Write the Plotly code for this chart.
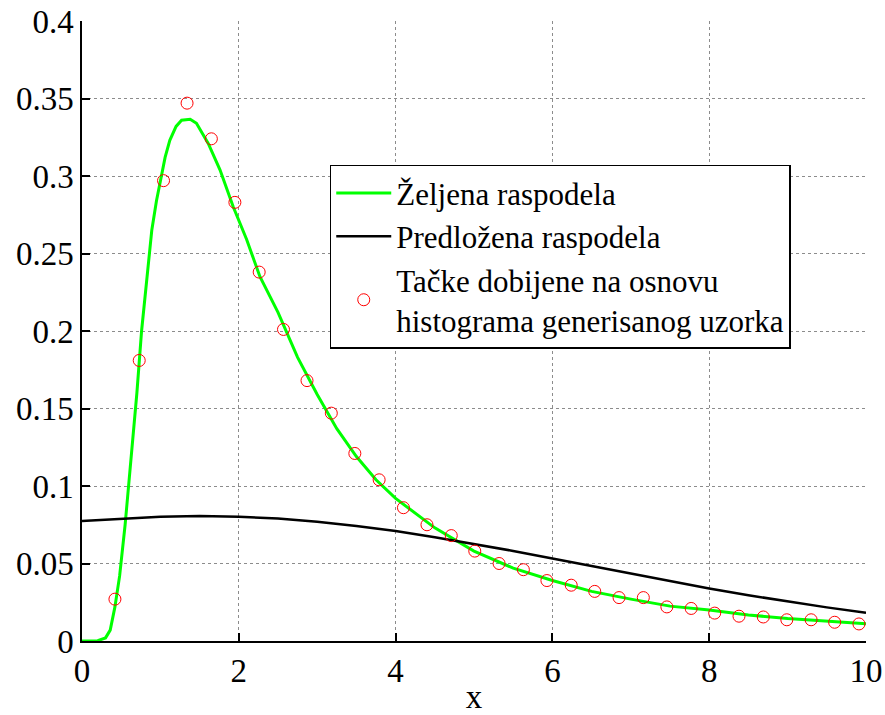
import plotly.graph_objects as go

# Target density (green), sampled along x
x_target = [0.0, 0.1, 0.2, 0.3, 0.36, 0.42, 0.48, 0.55, 0.62, 0.70, 0.76, 0.83, 0.89,
            0.95, 1.0, 1.06, 1.12, 1.2, 1.27, 1.38, 1.46, 1.61, 1.76, 1.93, 2.10,
            2.27, 2.5, 2.75, 3.0, 3.25, 3.5, 3.75, 4.0, 4.5, 5.0, 5.5, 6.0, 6.5,
            7.0, 7.5, 8.0, 8.5, 9.0, 9.5, 10.0]
y_target = [0.0, 0.0, 0.0002, 0.002, 0.007, 0.022, 0.042, 0.075, 0.115, 0.160, 0.200,
            0.233, 0.265, 0.284, 0.297, 0.312, 0.323, 0.332, 0.336, 0.3366, 0.334,
            0.321, 0.304, 0.280, 0.259, 0.235, 0.212, 0.183, 0.159, 0.137, 0.119,
            0.104, 0.092, 0.073, 0.058, 0.047, 0.039, 0.032, 0.027, 0.0225, 0.020,
            0.0168, 0.0145, 0.0128, 0.0112]

# Proposal density (black)
x_prop = [0.0, 0.5, 1.0, 1.5, 2.0, 2.5, 3.0, 3.5, 4.0, 4.5, 5.0, 5.5, 6.0, 6.5,
          7.0, 7.5, 8.0, 8.5, 9.0, 9.5, 10.0]
y_prop = [0.0774, 0.0790, 0.0802, 0.0806, 0.0802, 0.0790, 0.0770, 0.0742, 0.0709,
          0.0670, 0.0627, 0.0581, 0.0532, 0.0483, 0.0434, 0.0385, 0.0339, 0.0295,
          0.0254, 0.0217, 0.0183]

# Histogram-based points of the generated sample (red circles)
x_hist = [0.42, 0.73, 1.04, 1.34, 1.65, 1.95, 2.26, 2.57, 2.87, 3.18, 3.48, 3.79,
          4.10, 4.40, 4.71, 5.01, 5.32, 5.63, 5.93, 6.24, 6.54, 6.85, 7.16, 7.46,
          7.77, 8.07, 8.38, 8.69, 8.99, 9.30, 9.60, 9.91]
y_hist = [0.027, 0.181, 0.297, 0.347, 0.324, 0.283, 0.238, 0.201, 0.168, 0.147,
          0.121, 0.104, 0.086, 0.075, 0.068, 0.058, 0.050, 0.046, 0.039, 0.036,
          0.032, 0.028, 0.028, 0.022, 0.021, 0.018, 0.016, 0.0155, 0.0137, 0.0137,
          0.0121, 0.011]

x_ticks = [0, 2, 4, 6, 8, 10]
x_ticktext = ["0", "2", "4", "6", "8", "10"]
y_ticks = [0, 0.05, 0.1, 0.15, 0.2, 0.25, 0.3, 0.35, 0.4]
y_ticktext = ["0", "0.05", "0.1", "0.15", "0.2", "0.25", "0.3", "0.35", "0.4"]

FONT = "'Times New Roman', 'Liberation Serif', Tinos, 'DejaVu Serif', serif"

fig = go.Figure()
fig.add_trace(go.Scatter(x=x_target, y=y_target, mode="lines",
                         line=dict(color="#00ff00", width=3),
                         name="Željena raspodela"))
fig.add_trace(go.Scatter(x=x_prop, y=y_prop, mode="lines",
                         line=dict(color="black", width=2.5),
                         name="Predložena raspodela"))
fig.add_trace(go.Scatter(x=x_hist, y=y_hist, mode="markers",
                         marker=dict(symbol="circle-open", size=12, color="red",
                                     line=dict(width=1, color="red")),
                         name="Tačke dobijene na osnovu<br>histograma generisanog uzorka"))

axis_common = dict(
    showline=True, linecolor="black", linewidth=1.5,
    ticks="inside", ticklen=8, tickcolor="black", tickwidth=1.5,
    showgrid=True, gridcolor="#8c8c8c", griddash="dot", gridwidth=1,
    zeroline=False, mirror=False, automargin=False,
    tickfont=dict(family=FONT, size=33, color="black"),
)

fig.update_layout(
    width=885, height=715,
    margin=dict(l=82, r=19, t=21, b=74),
    paper_bgcolor="white", plot_bgcolor="white",
    font=dict(family=FONT, color="black"),
    showlegend=True,
    legend=dict(
        x=0.316, y=0.768, xanchor="left", yanchor="top",
        bgcolor="white", bordercolor="black", borderwidth=1.5,
        font=dict(family=FONT, size=31, color="black"),
        tracegroupgap=0, itemwidth=55,
    ),
    xaxis=dict(range=[0, 10], tickvals=x_ticks, ticktext=x_ticktext,
               title=dict(text="x", font=dict(family=FONT, size=33), standoff=4),
               **axis_common),
    yaxis=dict(range=[0, 0.4], tickvals=y_ticks, ticktext=y_ticktext,
               **axis_common),
)

fig.write_html("out.html")
